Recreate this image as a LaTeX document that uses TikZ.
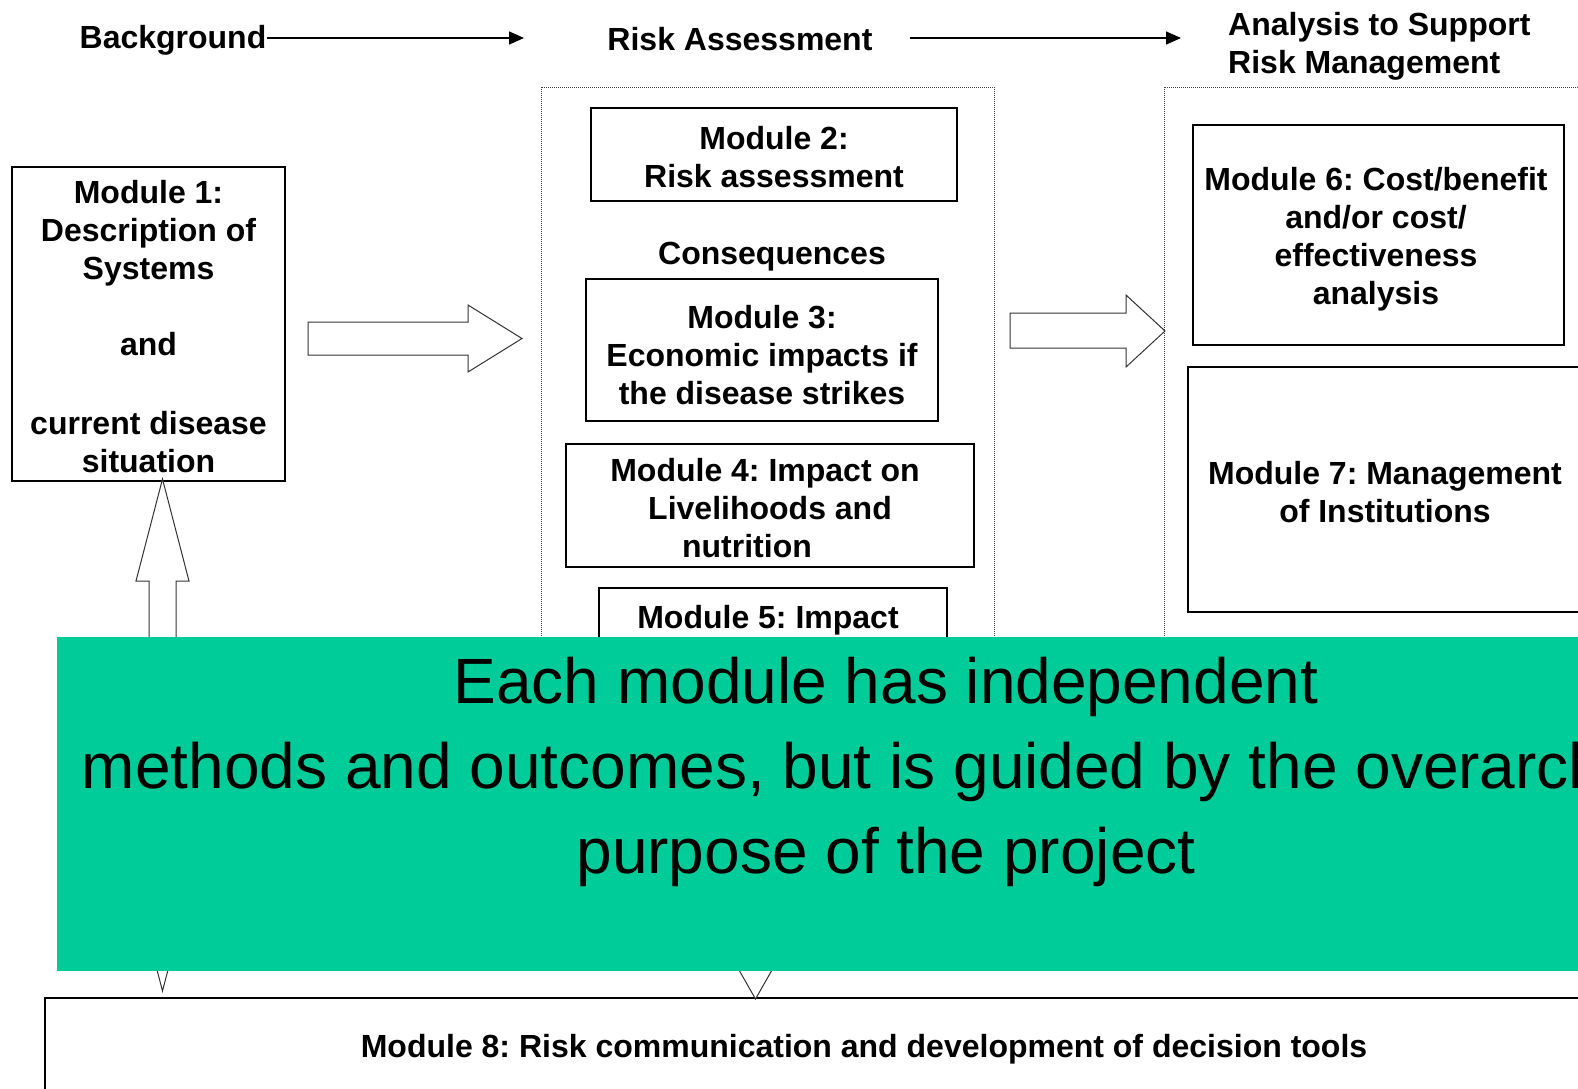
\documentclass[tikz,border=0pt]{standalone}
\usepackage{fontspec}
\setmainfont{Liberation Sans}
\usetikzlibrary{arrows.meta}
\newcommand\modfont{\fontsize{32}{38}\selectfont\bfseries}
\newcommand\notefont{\fontsize{64}{85}\selectfont}
\definecolor{notegreen}{HTML}{00CC99}
\frenchspacing
\begin{document}
\begin{tikzpicture}[x=1pt,y=-1pt,
  modbox/.style={draw=black,line width=2pt,fill=white,inner sep=0pt},
  plaintext/.style={align=center,font=\modfont,inner sep=0pt},
  phase/.style={dash pattern=on 1pt off 1pt,line width=1pt,draw=black!75},
  flow/.style={line width=1.5pt,-{Triangle[length=15pt,width=13pt]}},
  blockarrow/.style={draw=black!80,line width=1pt,fill=white,line join=miter},
]
\useasboundingbox (0,0) rectangle (1578,1088);
\fill[white] (0,0) rectangle (1578,1088);
\clip (0,0) rectangle (1578,1088);

% phase headings
\node[plaintext] (bg) at (173,40) {Background};
\node[plaintext] (ra) at (740,39) {Risk Assessment};
\node[plaintext,align=left,anchor=west] (rm) at (1228,46) {Analysis to Support\\Risk Management};
\coordinate (bgend) at (524,38);
\coordinate (rastart) at (910,38);
\coordinate (raend) at (1181,38);
\draw[flow] (bg.east |- bgend) -- (bgend);
\draw[flow] (rastart) -- (raend);

% phase containers
\draw[phase] (541,87) rectangle (994,900);
\draw[phase] (1164,87) rectangle (1720,900);

% module boxes
\node[modbox,minimum width=273,minimum height=314] (m1) at (148.5,324) {};
\node[modbox,minimum width=366,minimum height=93] (m2) at (774,154.5) {};
\node[modbox,minimum width=352,minimum height=142] (m3) at (762,350) {};
\node[modbox,minimum width=408,minimum height=123] (m4) at (770,505.5) {};
\node[modbox,minimum width=348,minimum height=132] (m5) at (773,654) {};
\node[modbox,minimum width=371,minimum height=220] (m6) at (1378.5,235) {};
\node[modbox,minimum width=394,minimum height=245] (m7) at (1385,489.5) {};
\node[modbox,minimum width=1638,minimum height=98] (m8) at (864,1047) {};

% module titles
\node[plaintext] (m1text) at (148.5,326.5)
  {Module 1:\\Description of\\Systems\\[38pt]and\\[41pt]current disease\\situation};
\node[plaintext] (m2text) at (774,157) {Module 2:\\Risk assessment};
\node[plaintext] (cons) at (772,257) {Consequences};
\node[plaintext] (m3text) at (762,355) {Module 3:\\Economic impacts if\\the disease strikes};
\node[plaintext] (m4text) at (770,508)
  {Module 4: Impact on\hspace{10pt}\mbox{}\\Livelihoods and\\nutrition\hspace{46pt}\mbox{}};
\node[plaintext] (m5text) at (768,620) {Module 5: Impact};
\node[plaintext] (m6text) at (1376,239)
  {Module 6: Cost/benefit\\and/or cost/\\effectiveness\\analysis};
\node[plaintext] (m7text) at (1385,492) {Module 7: Management\\of Institutions};
\node[plaintext] (m8text) at (864,1049)
  {Module 8: Risk communication and development of decision tools};

% block arrows between the stages
\draw[blockarrow] (308,322) -- (468,322) -- (468,305) -- (522,338.5)
  -- (468,372) -- (468,355) -- (308,355) -- cycle;
\draw[blockarrow] (1010,313) -- (1126,313) -- (1126,295) -- (1165,331)
  -- (1126,367) -- (1126,348) -- (1010,348) -- cycle;
% two-way link between module 1 and module 8
\draw[blockarrow] (162.5,479) -- (189,581) -- (176,581) -- (176,889) -- (189,889)
  -- (162.5,991) -- (136,889) -- (149,889) -- (149,581) -- (136,581) -- cycle;
% link from the risk assessment column down to module 8
\draw[blockarrow] (739.5,720) -- (771.5,720) -- (771.5,941) -- (788.5,941)
  -- (755.5,999) -- (722.5,941) -- (739.5,941) -- cycle;

% overlay note
\fill[notegreen] (57,637) rectangle (1720,971);
\node[align=center,font=\notefont,inner sep=0pt] (note) at (886,772)
  {Each module has independent\\methods and outcomes, but is guided by the overarching\\purpose of the project};
\end{tikzpicture}
\end{document}
